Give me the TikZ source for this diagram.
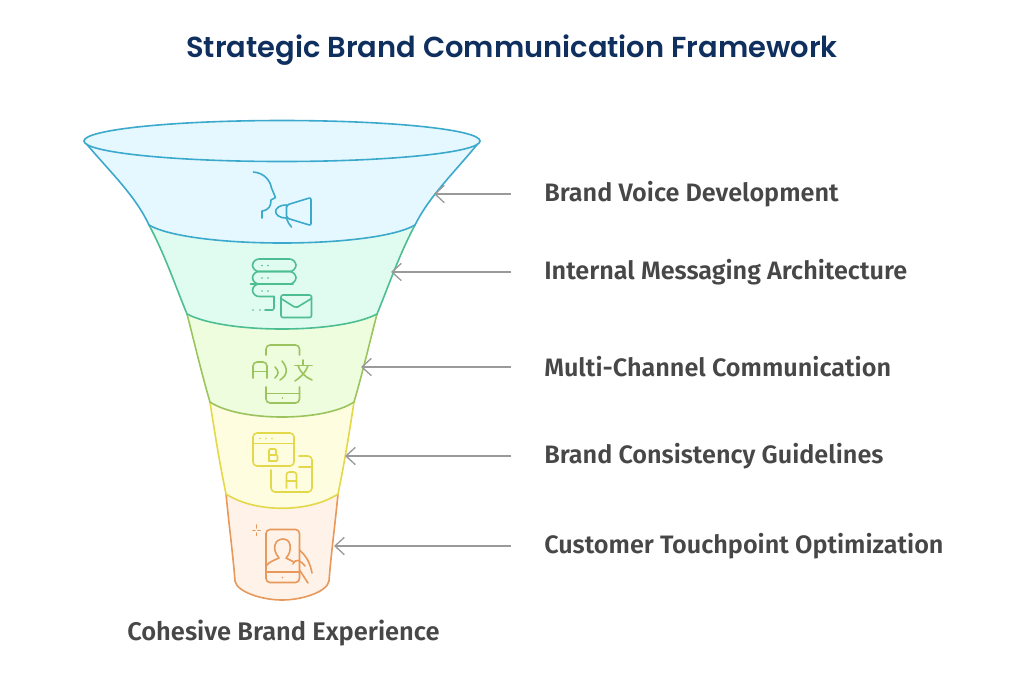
\documentclass[tikz,border=0pt]{standalone}
\usepackage{fontspec}
\setmainfont{Fira Sans}[BoldFont={Fira Sans SemiBold}]
\newfontfamily\titlefont{Poppins}[BoldFont={Poppins SemiBold}]
\usetikzlibrary{arrows.meta}
\definecolor{titleblue}{HTML}{0F2F5F}
\definecolor{labelgray}{HTML}{474747}
\definecolor{arrowgray}{HTML}{9A9A9A}
\definecolor{lineA}{HTML}{3BA9CC}
\definecolor{fillA}{HTML}{E5F8FF}
\definecolor{lineB}{HTML}{4DBE92}
\definecolor{fillB}{HTML}{E0FBF0}
\definecolor{lineC}{HTML}{9CC45E}
\definecolor{fillC}{HTML}{EEFDDE}
\definecolor{lineD}{HTML}{E3D84A}
\definecolor{fillD}{HTML}{FFFDDF}
\definecolor{lineE}{HTML}{E8985A}
\definecolor{fillE}{HTML}{FFF2E8}
\tikzset{
  seg/.style={line width=1.2pt,line join=round},
  icon/.style={line width=1.2pt,line cap=round,line join=round,rounded corners=1.5pt},
  pointer/.style={-{Straight Barb[length=7pt,width=13pt,line width=1pt]},arrowgray,line width=1pt},
  steplabel/.style={anchor=west,inner sep=0pt,text=labelgray,font=\bfseries\fontsize{18.9}{22}\selectfont}
}
\begin{document}
\begin{tikzpicture}[x=0.75pt,y=-0.75pt]
\useasboundingbox (0,0) rectangle (1024,683);
\node[inner sep=0pt,text=titleblue,font=\titlefont\bfseries\fontsize{21.7}{26}\selectfont] (title) at (512,50) {Strategic Brand Communication Framework};
% funnel, from the bottom up
\draw[seg,draw=lineE,fill=fillE] (226,494) .. controls (229,525) and (233,555) .. (235,581) .. controls (237,592) and (262,600) .. (282,600) .. controls (302,600) and (327,592) .. (329,581) .. controls (331,555) and (335,525) .. (338,494) -- cycle;
\draw[seg,draw=lineD,fill=fillD] (210,402) .. controls (215,435) and (220,465) .. (226,494) .. controls (255,513) and (309,513) .. (338,494) .. controls (344,465) and (349,435) .. (354,402) -- cycle;
\draw[seg,draw=lineC,fill=fillC] (187,314) .. controls (195,345) and (202,375) .. (210,402) .. controls (240,422) and (324,422) .. (354,402) .. controls (362,375) and (369,345) .. (377,314) -- cycle;
\draw[seg,draw=lineB,fill=fillB] (149,225) .. controls (165,255) and (175,285) .. (187,314) .. controls (225,334) and (339,334) .. (377,314) .. controls (389,285) and (399,255) .. (415,225) -- cycle;
\draw[seg,draw=lineA,fill=fillA] (84,141) .. controls (110,172) and (135,195) .. (149,225) .. controls (190,249) and (374,249) .. (415,225) .. controls (430,195) and (455,172) .. (480,141) -- cycle;
\draw[seg,draw=lineA,fill=fillA] (282,141) ellipse [x radius=198,y radius=20.5];
% head and megaphone
\begin{scope}[icon,draw=lineA]
\draw[rounded corners=0pt] (253.5,172) .. controls (264,173) and (270,180) .. (271.5,188) -- (275.5,197.5) -- (271,200) .. controls (271,206) and (269,210) .. (262,211) -- (262,218);
\draw (286.5,205) -- (311,197.5) -- (311,225.5) -- (286.5,218) -- cycle;
\draw[rounded corners=0pt] (286.5,205) .. controls (272,205) and (272,218) .. (286.5,218) .. controls (288,222) and (289,225) .. (291.5,227);
\end{scope}
% stacked messages and envelope
\begin{scope}[icon,draw=lineB]
\draw[rounded corners=5pt] (252.5,259) rectangle (296,271.5);
\draw[rounded corners=5pt] (252.5,271.5) rectangle (296,284);
\draw[rounded corners=5pt] (293,284) -- (257,284) -- (252.5,284) -- (252.5,296.5) -- (274,296.5);
\draw (274,296.5) -- (274,310) -- (265,310);
\draw (281,295) rectangle (311.5,317.5);
\draw (281,298.5) -- (296,308) -- (311.5,298.5);
\foreach \px/\py in {262/265.5,268/265.5,262/278,268/278,262/291,268/291,253/310,260/310}
  \fill[lineB] (\px,\py) circle (0.7pt);
\end{scope}
% translation phone
\begin{scope}[icon,draw=lineC]
\draw[rounded corners=3pt] (253,378) -- (253,362) -- (267,362) -- (267,378);
\draw (253,371.5) -- (267,371.5);
\draw (275,367) .. controls (279,371) and (279,374) .. (275,378);
\draw (282,361) .. controls (288,368) and (288,375) .. (280,380);
\draw (303,360) -- (303,365);
\draw (295,365.5) -- (312,365.5);
\draw (298,365.5) .. controls (300,372) and (305,377) .. (312,380);
\draw (308,365.5) .. controls (306,372) and (301,377) .. (295,381);
\draw[rounded corners=3pt] (266,355) -- (266,345) -- (299.5,345) -- (299.5,355);
\draw[rounded corners=3pt] (266,387) -- (266,403) -- (299.5,403) -- (299.5,387);
\draw (266,393.5) -- (299.5,393.5);
\fill[lineC] (282.5,398) circle (0.7pt);
\end{scope}
% A/B windows
\begin{scope}[icon,draw=lineD]
\draw[rounded corners=3pt] (253,433) rectangle (294,466);
\draw (253,443.5) -- (294,443.5);
\foreach \px in {260,266,272}
  \fill[lineD] (\px,438.5) circle (0.7pt);
\draw[rounded corners=0.8pt] (269,461) -- (269,449) -- (276,449) -- (276,455) -- (269,455);
\draw[rounded corners=0.8pt] (276,455) -- (277.5,455) -- (277.5,461) -- (269,461);
\draw[rounded corners=3pt] (271,470) -- (271,492) -- (312,492) -- (312,456) -- (299,456);
\draw (299,467) -- (312,467);
\draw[rounded corners=2pt] (286.5,488) -- (286.5,472) -- (296.5,472) -- (296.5,488);
\draw (286.5,481) -- (296.5,481);
\end{scope}
% phone with person and hand
\begin{scope}[icon,draw=lineE]
\draw[rounded corners=3pt] (266,529.5) rectangle (299.5,582.5);
\draw (266,572) -- (299.5,572);
\fill[lineE] (282.5,577.5) circle (0.7pt);
\draw[rounded corners=0pt] (266,566) .. controls (270,561) and (275,560) .. (279,558) .. controls (275,553) and (274,549) .. (275,545) .. controls (277,537) and (289,537) .. (290,545) .. controls (291,550) and (289,555) .. (286,558) -- (294,562);
\draw[rounded corners=0pt] (299.5,550) .. controls (306,556) and (310,562) .. (312,573);
\draw[rounded corners=0pt] (293,564) .. controls (296,558) and (300,560) .. (305,566);
\draw (299.5,570) -- (308,583);
\draw (253,530.5) -- (255,530.5) (258,530.5) -- (260,530.5) (256.5,525) -- (256.5,528) (256.5,533) -- (256.5,535.5);
\end{scope}
% labels and pointers
\foreach \nm/\ly/\tipx/\txt in {a/194/434/Brand Voice Development,b/272/391/Internal Messaging Architecture,c/367/361/Multi-Channel Communication,d/456/345/Brand Consistency Guidelines,e/546/334/Customer Touchpoint Optimization}{
  \node[steplabel] (l\nm) at (544,\ly) {\txt};
  \coordinate (s\nm) at (511,\ly);
  \coordinate (t\nm) at (\tipx,\ly);
  \draw[pointer] (s\nm) -- (t\nm);
}
\node[inner sep=0pt,text=labelgray,font=\bfseries\fontsize{19.1}{22}\selectfont] (result) at (283.5,633) {Cohesive Brand Experience};
\end{tikzpicture}
\end{document}
